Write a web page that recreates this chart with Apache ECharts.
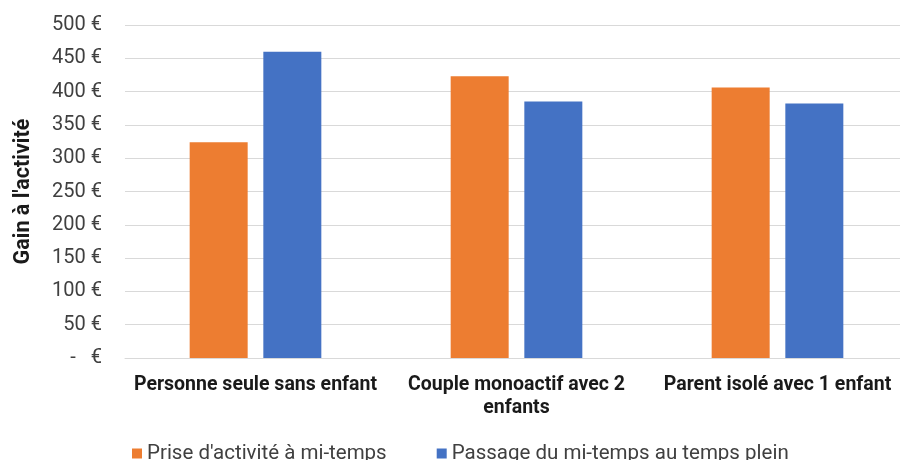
<!doctype html>
<html>
<head>
<meta charset="utf-8">
<title>Gain à l'activité</title>
<script src="https://cdn.jsdelivr.net/npm/echarts@6/dist/echarts.min.js"></script>
<style>
  html, body { margin: 0; padding: 0; background: #fff; }
  #chart { width: 900px; height: 460px; }
</style>
</head>
<body>
<div id="chart"></div>
<script>
// données
var categories = ['Personne seule sans enfant', 'Couple monoactif avec 2\nenfants', 'Parent isolé avec 1 enfant'];
var seriesNames = ['Prise d\'activité à mi-temps', 'Passage du mi-temps au temps plein'];
var miTemps = [324, 423, 406];
var tempsPlein = [460, 385, 382];
var yTicks = [0, 50, 100, 150, 200, 250, 300, 350, 400, 450, 500];

var myChart = echarts.init(document.getElementById('chart'));

var option = {
  animation: false,
  textStyle: { fontFamily: 'Roboto' },
  grid: { left: 125, width: 783, top: 25, height: 333, containLabel: false, outerBoundsMode: 'none' },
  legend: {
    data: seriesNames,
    left: 127,
    top: 438,
    itemWidth: 10,
    itemHeight: 10,
    itemGap: 50,
    icon: 'rect',
    textStyle: { fontSize: 20.5, color: '#404040', fontFamily: 'Roboto' }
  },
  xAxis: {
    type: 'category',
    data: categories,
    axisTick: { show: false },
    axisLine: { lineStyle: { color: '#d9d9d9', width: 1 } },
    axisLabel: {
      interval: 0,
      margin: 16,
      fontSize: 19.5,
      fontWeight: 'bold',
      color: '#1a1a1a',
      lineHeight: 23,
      fontFamily: 'Roboto'
    }
  },
  yAxis: {
    type: 'value',
    min: yTicks[0],
    max: yTicks[yTicks.length - 1],
    interval: 50,
    name: 'Gain à l\'activité',
    nameLocation: 'middle',
    nameGap: 90,
    nameRotate: 90,
    nameTextStyle: { fontSize: 21.5, fontWeight: 'bold', color: '#1a1a1a', fontFamily: 'Roboto' },
    axisLine: { show: false },
    axisTick: { show: false },
    splitLine: { lineStyle: { color: '#d9d9d9', width: 1 } },
    axisLabel: {
      margin: 23,
      fontSize: 20,
      color: '#404040',
      fontFamily: 'Roboto',
      formatter: function (v) { return v === 0 ? '-   €' : v + ' €'; }
    }
  },
  series: [
    {
      name: seriesNames[0],
      type: 'bar',
      data: miTemps,
      barWidth: 58,
      barGap: '27%',
      itemStyle: { color: '#ED7D31' }
    },
    {
      name: seriesNames[1],
      type: 'bar',
      data: tempsPlein,
      barWidth: 58,
      itemStyle: { color: '#4472C4' }
    }
  ]
};

myChart.setOption(option);
</script>
</body>
</html>
